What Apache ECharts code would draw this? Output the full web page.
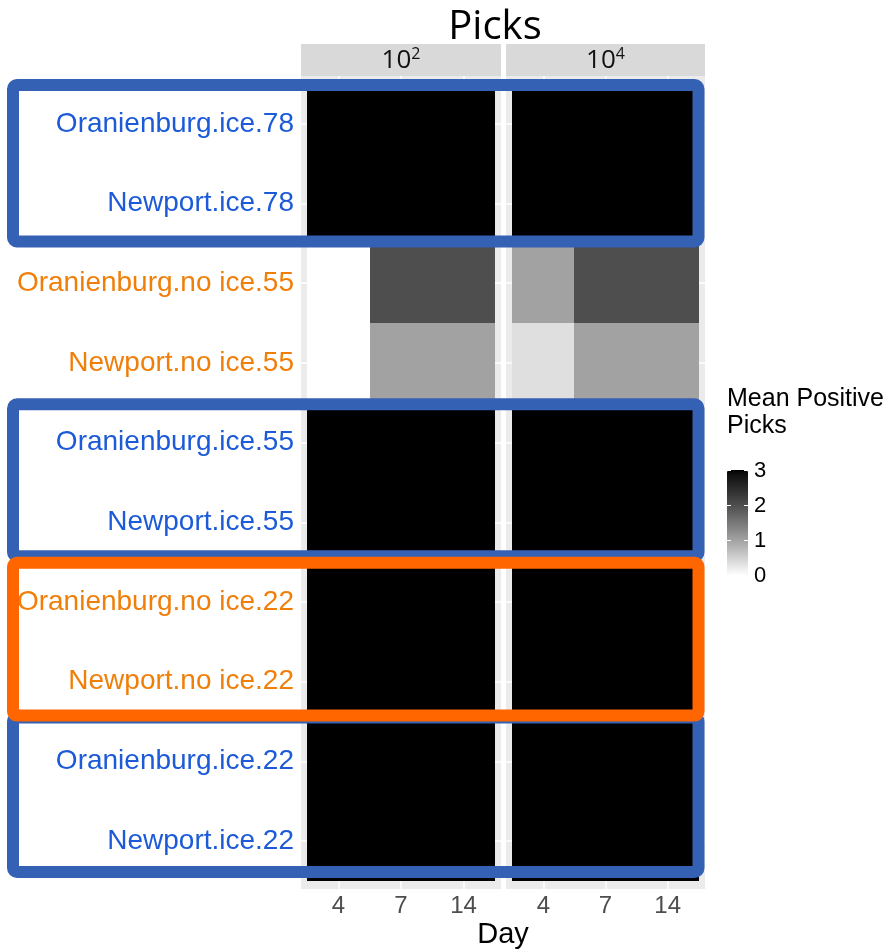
<!DOCTYPE html>
<html>
<head>
<meta charset="utf-8">
<script src="https://cdn.jsdelivr.net/npm/echarts@6/dist/echarts.min.js"></script>
<style>
  html, body { margin: 0; padding: 0; background: #ffffff; }
  #chart { width: 890px; height: 952px; }
</style>
</head>
<body>
<div id="chart"></div>
<script>
// ---- data ----
const days = ['4', '7', '14'];
const rows = [
  'Oranienburg.ice.78', 'Newport.ice.78',
  'Oranienburg.no ice.55', 'Newport.no ice.55',
  'Oranienburg.ice.55', 'Newport.ice.55',
  'Oranienburg.no ice.22', 'Newport.no ice.22',
  'Oranienburg.ice.22', 'Newport.ice.22'
];
const panelExponents = ['2', '4'];           // facets: 10^2, 10^4
// mean positive picks per row (top to bottom), columns = days 4, 7, 14
const picksDose2 = [
  [3, 3, 3], [3, 3, 3],
  [0, 2, 2], [0, 1, 1],
  [3, 3, 3], [3, 3, 3],
  [3, 3, 3], [3, 3, 3],
  [3, 3, 3], [3, 3, 3]
];
const picksDose4 = [
  [3, 3, 3], [3, 3, 3],
  [1, 2, 2], [0.33, 1, 1],
  [3, 3, 3], [3, 3, 3],
  [3, 3, 3], [3, 3, 3],
  [3, 3, 3], [3, 3, 3]
];
const legendTicks = [0, 1, 2, 3];
// highlighted row ranges [first, last]
const iceGroups = [[0, 1], [4, 5], [8, 9]];
const noIceGroups = [[6, 7]];

// ---- layout & style ----
const PANEL_TOP = 76, PANEL_H = 813;
const PANEL_LEFT = [301, 506], PANEL_W = [200, 199];
const STRIP_TOP = 44, STRIP_H = 32;
const VM_LEFT = 727, VM_TOP = 470, VM_W = 21, VM_H = 105;
const BLUE = '#1C5AD8', ORANGE = '#F07F0A';
const BOX_BLUE = '#3461B4', BOX_ORANGE = '#FF6600';
const SANS = '"Liberation Sans", Arial, sans-serif';
const TITLE_FONT = '"Open Sans", "Noto Sans", sans-serif';

// white -> black ramp interpolated in CIE Lab lightness
function labGray(L) {
  const fy = (L + 16) / 116;
  const Y = L > 8 ? fy * fy * fy : L / 903.3;
  const c = Y <= 0.0031308 ? 12.92 * Y : 1.055 * Math.pow(Y, 1 / 2.4) - 0.055;
  const g = Math.round(Math.max(0, Math.min(1, c)) * 255);
  return 'rgb(' + g + ',' + g + ',' + g + ')';
}
const ramp = [];
for (let k = 0; k <= 30; k++) ramp.push(labGray(100 * (1 - k / 30)));

const panelData = [picksDose2, picksDose4].map(m => {
  const out = [];
  m.forEach((vals, r) => vals.forEach((v, d) => out.push([d, r, v])));
  return out;
});

const rowIdx = rows.map((_, i) => i);
const dayIdx = days.map((_, i) => i);

// one tile per (day, row); snapped to whole pixels, inner tiles overlap by 1px
function renderTile(params, api) {
  const x = api.value(0), y = api.value(1);
  const a = api.coord([x - 0.5, y - 0.5]);
  const b = api.coord([x + 0.5, y + 0.5]);
  const x0 = Math.round(Math.min(a[0], b[0])), x1 = Math.round(Math.max(a[0], b[0]));
  const y0 = Math.round(Math.min(a[1], b[1])), y1 = Math.round(Math.max(a[1], b[1]));
  const padX = x < days.length - 1 ? 1 : 0;
  const padY = y < rows.length - 1 ? 1 : 0;
  return {
    type: 'rect',
    shape: { x: x0, y: y0, width: x1 - x0 + padX, height: y1 - y0 + padY },
    style: { fill: api.visual('color') }
  };
}

const chart = echarts.init(document.getElementById('chart'), null, { renderer: 'canvas' });

const option = {
  backgroundColor: '#ffffff',
  animation: false,
  grid: PANEL_LEFT.map((l, i) => ({
    left: l, top: PANEL_TOP, width: PANEL_W[i], height: PANEL_H,
    show: true, backgroundColor: '#EBEBEB', borderWidth: 0
  })),
  xAxis: PANEL_LEFT.map((_, i) => ({
    type: 'value', gridIndex: i, min: -0.6, max: 2.6,
    axisLine: { show: false },
    axisTick: { show: true, customValues: dayIdx, length: 4, lineStyle: { color: '#333333' } },
    axisLabel: {
      customValues: dayIdx, margin: 5,
      formatter: v => days[Math.round(v)],
      color: '#4D4D4D', fontSize: 24, fontFamily: SANS
    },
    splitLine: { show: true, lineStyle: { color: '#ffffff', width: 1.5 } }
  })),
  yAxis: PANEL_LEFT.map((_, i) => ({
    type: 'value', gridIndex: i, min: -0.6, max: 9.6, inverse: true,
    axisLine: { show: false },
    axisTick: { show: i === 0, customValues: rowIdx, length: 4, lineStyle: { color: '#333333' } },
    axisLabel: {
      show: i === 0, customValues: rowIdx, margin: 7,
      formatter: v => {
        const name = rows[Math.round(v)];
        return (name.indexOf('no ice') >= 0 ? '{o|' : '{b|') + name + '}';
      },
      rich: {
        b: { color: BLUE, fontSize: 28, fontFamily: SANS },
        o: { color: ORANGE, fontSize: 28, fontFamily: SANS }
      }
    },
    splitLine: { show: true, lineStyle: { color: '#ffffff', width: 1.5 } }
  })),
  visualMap: {
    type: 'continuous', min: 0, max: 3, dimension: 2, seriesIndex: [0, 1],
    orient: 'vertical', left: VM_LEFT, top: VM_TOP, itemWidth: VM_W, itemHeight: VM_H,
    padding: 0, calculable: false, text: null, hoverLink: false,
    inRange: { color: ramp }
  },
  series: panelData.map((data, i) => ({
    type: 'custom', xAxisIndex: i, yAxisIndex: i,
    encode: { x: 0, y: 1 },
    renderItem: renderTile,
    data: data
  }))
};
chart.setOption(option);

// ---- decorations placed with the grid's own coordinate conversion ----
const graphics = [];

// title
graphics.push({
  type: 'text', x: 495, y: 28, z: 50,
  style: { text: 'Picks', font: 'normal 40px ' + TITLE_FONT, fill: '#000', align: 'center', verticalAlign: 'middle' }
});

// facet strips
PANEL_LEFT.forEach((l, i) => {
  graphics.push({
    type: 'rect', z: 50, shape: { x: l, y: STRIP_TOP, width: PANEL_W[i], height: STRIP_H },
    style: { fill: '#D9D9D9' }
  });
  graphics.push({
    type: 'text', z: 51, x: l + PANEL_W[i] / 2, y: STRIP_TOP + STRIP_H / 2 + 1,
    style: {
      text: '{b|10}{s|' + panelExponents[i] + '}',
      align: 'center', verticalAlign: 'middle',
      rich: {
        b: { fontSize: 26, fontFamily: TITLE_FONT, fill: '#111111' },
        s: { fontSize: 16, fontFamily: TITLE_FONT, fill: '#111111', padding: [0, 0, 13, 0] }
      }
    }
  });
});

// x axis title
graphics.push({
  type: 'text', x: 503, y: 935, z: 50,
  style: { text: 'Day', font: 'normal 29px ' + SANS, fill: '#000', align: 'center', verticalAlign: 'middle' }
});

// legend title, labels and ticks
graphics.push({
  type: 'text', x: VM_LEFT, y: 386, z: 50,
  style: { text: 'Mean Positive\nPicks', font: 'normal 25px ' + SANS, lineHeight: 27, fill: '#000', align: 'left', verticalAlign: 'top' }
});
legendTicks.forEach(v => {
  const y = VM_TOP + VM_H * (1 - v / 3);
  graphics.push({
    type: 'text', z: 50, x: VM_LEFT + VM_W + 6, y: y + 1,
    style: { text: String(v), font: 'normal 22px ' + SANS, fill: '#000', align: 'left', verticalAlign: 'middle' }
  });
  if (v > 0) {
    [[VM_LEFT, VM_LEFT + 4], [VM_LEFT + VM_W - 4, VM_LEFT + VM_W]].forEach(([x1, x2]) => {
      graphics.push({
        type: 'line', z: 50, shape: { x1: x1, y1: y + 0.5, x2: x2, y2: y + 0.5 },
        style: { stroke: '#ffffff', lineWidth: 1 }
      });
    });
  }
});

// highlight frames around row groups
function rowEdge(r) { return chart.convertToPixel({ gridIndex: 0 }, [0, r])[1]; }
function frame(group, color, dTop, dBottom, z) {
  const top = rowEdge(group[0] - 0.5) + dTop;
  const bottom = rowEdge(group[1] + 0.5) + dBottom;
  graphics.push({
    type: 'rect', z: z,
    shape: { x: 13, y: top, width: 685.5, height: bottom - top, r: 4 },
    style: { fill: 'none', stroke: color, lineWidth: 12, lineJoin: 'round' }
  });
}
const blueShift = [[1, -2], [1.5, -6], [-4, -9]];
iceGroups.forEach((g, i) => frame(g, BOX_BLUE, blueShift[i][0], blueShift[i][1], 100));
noIceGroups.forEach(g => frame(g, BOX_ORANGE, 0.5, -6, 101));

chart.setOption({ graphic: graphics });
</script>
</body>
</html>
